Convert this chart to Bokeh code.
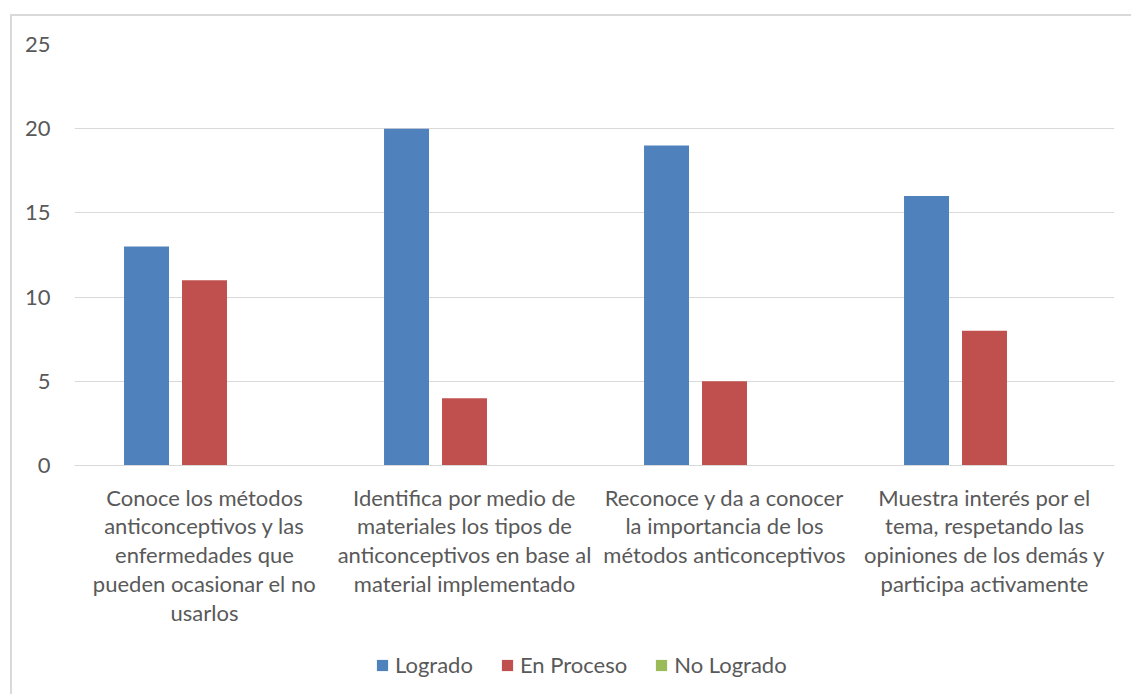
from bokeh.plotting import figure
from bokeh.models import (Range1d, FactorRange, Legend, LegendItem,
                          ColumnDataSource, FixedTicker)
from bokeh.layouts import column
from bokeh.transform import dodge
from bokeh.embed import file_html
from bokeh.resources import INLINE

categories = [
    "Conoce los métodos\nanticonceptivos y las\nenfermedades que\npueden ocasionar el no\nusarlos",
    "Identifica por medio de\nmateriales los tipos de\nanticonceptivos en base al\nmaterial implementado",
    "Reconoce y da a conocer\nla importancia de los\nmétodos anticonceptivos",
    "Muestra interés por el\ntema, respetando las\nopiniones de los demás y\nparticipa activamente",
]
series = ["Logrado", "En Proceso", "No Logrado"]
logrado = [13, 20, 19, 16]
en_proceso = [11, 4, 5, 8]
no_logrado = [0, 0, 0, 0]
y_ticks = [0, 5, 10, 15, 20, 25]
colors = ["#4F81BD", "#C0504D", "#9BBB59"]

FONT = "Lato"
TXT = "#595959"
FS = "22px"
GRID = "#d9d9d9"

source = ColumnDataSource(dict(cat=categories, Logrado=logrado,
                               EnProceso=en_proceso, NoLogrado=no_logrado))
cols = ["Logrado", "EnProceso", "NoLogrado"]
offsets = [-0.223, 0.0, 0.223]

# ---- main chart ----
p = figure(width=1119, height=632, x_range=FactorRange(*categories),
           y_range=Range1d(0, 25), output_backend="svg", toolbar_location=None,
           min_border_left=62, min_border_right=17, min_border_top=28,
           min_border_bottom=183)
p.outline_line_color = None
p.background_fill_color = "white"
p.border_fill_color = "white"

for col, off, c in zip(cols, offsets, colors):
    p.vbar(x=dodge("cat", off, range=p.x_range), top=col, bottom=0,
           width=0.173, source=source, fill_color=c, line_color=None)

p.yaxis.ticker = FixedTicker(ticks=y_ticks)
p.yaxis.axis_line_color = None
p.yaxis.major_tick_line_color = None
p.yaxis.minor_tick_line_color = None
p.yaxis.major_label_text_font = FONT
p.yaxis.major_label_text_font_size = FS
p.yaxis.major_label_text_color = TXT
p.yaxis.major_label_standoff = 18

p.xaxis.axis_line_color = GRID
p.xaxis.axis_line_width = 1
p.xaxis.major_tick_line_color = None
p.xaxis.minor_tick_line_color = None
p.xaxis.major_label_text_font = FONT
p.xaxis.major_label_text_font_size = FS
p.xaxis.major_label_text_color = TXT
p.xaxis.major_label_text_line_height = 1.07
p.xaxis.major_label_standoff = 12
p.xaxis.major_label_text_align = "center"

p.xgrid.grid_line_color = None
p.ygrid.grid_line_color = GRID
p.ygrid.grid_line_width = 1

# ---- legend strip ----
lg = figure(width=1119, height=46, x_range=FactorRange(*categories),
            y_range=Range1d(0, 25), output_backend="svg", toolbar_location=None,
            x_axis_location=None, y_axis_location=None,
            min_border_left=0, min_border_right=0, min_border_top=0,
            min_border_bottom=0)
lg.outline_line_color = None
lg.grid.visible = False
lg.background_fill_color = "white"
lg.border_fill_color = "white"
leg_renderers = []
for col, off, c in zip(cols, offsets, colors):
    r = lg.vbar(x=dodge("cat", off, range=lg.x_range), top=col, bottom=0,
                width=0.173, source=source, fill_color=c, line_color=None,
                visible=False)
    leg_renderers.append(r)

legend = Legend(items=[LegendItem(label=s, renderers=[r]) for s, r in zip(series, leg_renderers)],
                orientation="horizontal", location=(301, 16),
                glyph_width=14, glyph_height=14, label_standoff=6, spacing=27,
                padding=0, margin=0, border_line_color=None,
                background_fill_alpha=0, inactive_fill_alpha=0,
                label_text_font=FONT, label_text_font_size=FS,
                label_text_color=TXT)
lg.add_layout(legend, "center")

layout = column(p, lg, spacing=0, margin=(14, 0, 0, 10),
                styles={"border-left": "2px solid #d9d9d9",
                        "border-top": "2px solid #d9d9d9"})

open("out.html", "w").write(file_html(layout, INLINE))
